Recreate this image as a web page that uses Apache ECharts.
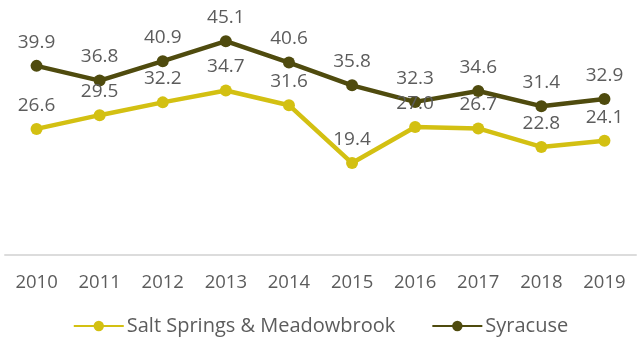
<!DOCTYPE html>
<html>
<head>
<meta charset="utf-8">
<script src="https://cdn.jsdelivr.net/npm/echarts@6/dist/echarts.min.js"></script>
<style>
  html, body { margin: 0; padding: 0; background: #fff; }
  #chart { width: 641px; height: 341px; }
</style>
</head>
<body>
<div id="chart"></div>
<script>
// Years on the category axis
const years = ['2010', '2011', '2012', '2013', '2014', '2015', '2016', '2017', '2018', '2019'];
// Series values
const saltSprings = [26.6, 29.5, 32.2, 34.7, 31.6, 19.4, 27.0, 26.7, 22.8, 24.1];
const syracuse = [39.9, 36.8, 40.9, 45.1, 40.6, 35.8, 32.3, 34.6, 31.4, 32.9];

const FONT = '"Open Sans", Lato, sans-serif';
const TEXT = '#5c5c5c';

const chart = echarts.init(document.getElementById('chart'), null, { renderer: 'canvas' });

function lineSeries(name, data, color) {
  return {
    name: name,
    type: 'line',
    data: data,
    symbol: 'circle',
    symbolSize: 12,
    lineStyle: { color: color, width: 4.5 },
    itemStyle: { color: color },
    label: {
      show: true,
      position: 'top',
      distance: 8,
      color: TEXT,
      fontFamily: FONT,
      fontSize: 19,
      formatter: p => p.value.toFixed(1)
    },
    emphasis: { disabled: true },
    animation: false
  };
}

chart.setOption({
  backgroundColor: '#fff',
  animation: false,
  grid: { left: 5, right: 5, top: 18, bottom: 86 },
  xAxis: {
    type: 'category',
    data: years,
    boundaryGap: true,
    axisLine: { show: true, lineStyle: { color: '#dcdcdc', width: 2 } },
    axisTick: { show: false },
    axisLabel: { color: TEXT, fontFamily: FONT, fontSize: 18.5, margin: 18 }
  },
  yAxis: {
    type: 'value',
    min: 0,
    max: 50,
    show: false,
    splitLine: { show: false }
  },
  legend: {
    bottom: 0,
    left: 'center',
    itemWidth: 50,
    itemHeight: 13,
    itemGap: 36,
    textStyle: { color: TEXT, fontFamily: FONT, fontSize: 20, padding: [0, 0, 0, -2] },
    data: ['Salt Springs & Meadowbrook', 'Syracuse']
  },
  series: [
    lineSeries('Salt Springs & Meadowbrook', saltSprings, '#d3c012'),
    lineSeries('Syracuse', syracuse, '#4f4b0e')
  ]
});
</script>
</body>
</html>
